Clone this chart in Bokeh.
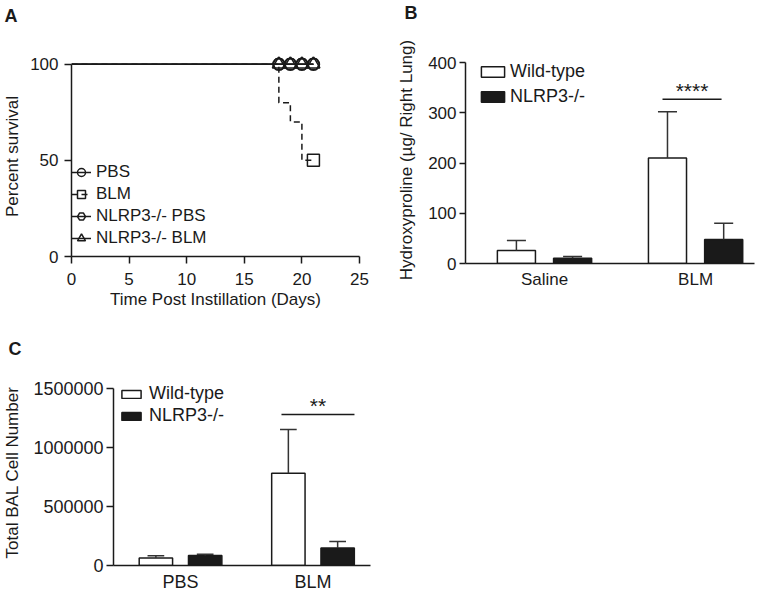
from bokeh.plotting import figure
from bokeh.layouts import column, row
from bokeh.models import Range1d, FixedTicker, Legend, LegendItem, Title, BasicTickFormatter
from bokeh.core.properties import value
from bokeh.embed import file_html
from bokeh.resources import INLINE

FONT = "Liberation Sans"
INK = "#1a1a1a"

# ---------------- data ----------------
day_ticks = [0, 5, 10, 15, 20, 25]
surv_ticks = [0, 50, 100]
a_series = ["PBS", "BLM", "NLRP3-/- PBS", "NLRP3-/- BLM"]
pbs_days = [0, 21]
pbs_surv = [100, 100]
blm_days = [0, 18, 19, 20, 21]
blm_surv = [100, 80, 70, 50, 50]
ko_pbs_days = [0, 21]
ko_pbs_surv = [100, 100]
ko_blm_days = [0, 21]
ko_blm_surv = [100, 100]
censor_days = [18, 19, 20, 21]
censor_surv = [100, 100, 100, 100]
blm_censor_days = [21]
blm_censor_surv = [50]

bar_names = ["Wild-type", "NLRP3-/-"]
b_groups = ["Saline", "BLM"]
b_ticks = [0, 100, 200, 300, 400]
b_wt_mean = [26, 210]
b_wt_sd = [20, 92]
b_ko_mean = [10.5, 48]
b_ko_sd = [3.5, 32]
b_sig_label = "****"
b_sig_y = 327

c_groups = ["PBS", "BLM"]
c_ticks = [0, 500000, 1000000, 1500000]
c_wt_mean = [63000, 784000]
c_wt_sd = [19000, 371000]
c_ko_mean = [85000, 148000]
c_ko_sd = [11000, 56000]
c_sig_label = "**"
c_sig_y = 1282000

DODGE = 0.186
BAR_W = 0.252


def base_fig(fw, fh, ml, mr, mt, mb, xr, yr):
    p = figure(frame_width=fw, frame_height=fh, min_border_left=ml, min_border_right=mr,
               min_border_top=mt, min_border_bottom=mb, x_range=xr, y_range=yr,
               output_backend="svg", toolbar_location=None, title=None)
    p.grid.visible = False
    p.outline_line_color = None
    p.background_fill_color = "white"
    p.border_fill_color = "white"
    return p


def style_axis(ax, tick_size="17px", label_size="17px"):
    ax.axis_line_color = INK
    ax.axis_line_width = 1.5
    ax.major_tick_line_color = INK
    ax.major_tick_line_width = 1.5
    ax.major_tick_in = 0
    ax.minor_tick_line_color = None
    ax.major_label_text_font = FONT
    ax.major_label_text_font_size = tick_size
    ax.major_label_text_color = INK
    ax.axis_label_text_font = FONT
    ax.axis_label_text_font_size = label_size
    ax.axis_label_text_font_style = "normal"
    ax.axis_label_text_color = INK


def panel_letter(p, txt, offset, spacer):
    p.add_layout(Title(text=" ", text_font_size="12px", standoff=spacer), "above")
    p.add_layout(Title(text=txt, align="left", offset=offset, vertical_align="top",
                       standoff=-8, text_font=FONT, text_font_size="18px",
                       text_font_style="bold", text_color=INK), "above")


# ---------------- Panel A ----------------
pa = base_fig(288, 200, 69, 23, 52, 78, Range1d(0, 25), Range1d(0, 104))
xa, ya = pa.xaxis[0], pa.yaxis[0]
style_axis(xa)
style_axis(ya)
xa.ticker = FixedTicker(ticks=day_ticks)
xa.bounds = (0, 25)
xa.axis_label = "Time Post Instillation (Days)"
xa.major_tick_out = 7
xa.major_label_standoff = 9
xa.axis_label_standoff = 2
ya.ticker = FixedTicker(ticks=surv_ticks)
ya.bounds = (0, 100)
ya.axis_label = "Percent survival"
ya.major_tick_out = 7
ya.major_label_standoff = 6
ya.axis_label_standoff = 5

lkw = dict(line_color=INK, line_width=1.5)
l_pbs = pa.line(pbs_days, pbs_surv, **lkw)
l_blm = pa.step(blm_days, blm_surv, mode="after", line_dash="6 4", **lkw)
l_kp = pa.line(ko_pbs_days, ko_pbs_surv, **lkw)
l_kb = pa.line(ko_blm_days, ko_blm_surv, **lkw)
mkw = dict(fill_color=None, line_color=INK, line_width=1.5)
m_pbs = pa.scatter(censor_days, censor_surv, marker="circle", size=12, **mkw)
m_blm = pa.scatter(blm_censor_days, blm_censor_surv, marker="square", size=12, **mkw)
m_kp = pa.scatter(censor_days, censor_surv, marker="hex", size=12, **mkw)
m_kb = pa.scatter(censor_days, censor_surv, marker="triangle", size=13, **mkw)

leg_a = Legend(items=[LegendItem(label=a_series[0], renderers=[l_pbs, m_pbs]),
                      LegendItem(label=a_series[1], renderers=[l_blm, m_blm]),
                      LegendItem(label=a_series[2], renderers=[l_kp, m_kp]),
                      LegendItem(label=a_series[3], renderers=[l_kb, m_kb])],
               location=(0, 7), glyph_width=20, glyph_height=22, label_height=20,
               spacing=0, padding=0, margin=0, label_standoff=5,
               border_line_color=None, background_fill_alpha=0,
               label_text_font=FONT, label_text_font_size="17px", label_text_color=INK)
pa.add_layout(leg_a)
panel_letter(pa, "A", -67, 17)


# ---------------- bar panels ----------------
def bar_panel(p, groups, wt_mean, wt_sd, ko_mean, ko_sd, sig_label, sig_y, sig_rel, star_size):
    gx = [i + 1 for i in range(len(groups))]
    wt_x = [g - DODGE for g in gx]
    ko_x = [g + DODGE for g in gx]
    bw = dict(line_color=INK, line_width=1.5)
    r_wt = p.vbar(x=wt_x, top=wt_mean, bottom=0, width=BAR_W, fill_color="white", **bw)
    r_ko = p.vbar(x=ko_x, top=ko_mean, bottom=0, width=BAR_W, fill_color=INK, **bw)
    ekw = dict(line_color="#333333", line_width=1.5)
    for xs, m, s in ((wt_x, wt_mean, wt_sd), (ko_x, ko_mean, ko_sd)):
        hi = [a + b for a, b in zip(m, s)]
        p.segment(x0=xs, y0=m, x1=xs, y1=hi, **ekw)
        p.segment(x0=[x - BAR_W / 4 for x in xs], y0=hi, x1=[x + BAR_W / 4 for x in xs], y1=hi, **ekw)
    g = gx[-1]
    x0, x1 = g + sig_rel[0], g + sig_rel[1]
    p.segment(x0=[x0], y0=[sig_y], x1=[x1], y1=[sig_y], line_color=INK, line_width=1.5)
    p.text(x=[(x0 + x1) / 2], y=[sig_y], text=[sig_label], text_align="center",
           text_baseline="alphabetic", y_offset=-9, text_font=value(FONT),
           text_font_size=star_size, text_color=INK)
    ax = p.xaxis[0]
    ax.ticker = FixedTicker(ticks=gx)
    ax.major_label_overrides = {g_: name for g_, name in zip(gx, groups)}
    return r_wt, r_ko


# Panel B
pb = base_fig(289, 207, 83, 5, 56, 67, Range1d(0.477, 2.390), Range1d(0, 412))
style_axis(pb.xaxis[0])
style_axis(pb.yaxis[0])
rb_wt, rb_ko = bar_panel(pb, b_groups, b_wt_mean, b_wt_sd, b_ko_mean, b_ko_sd,
                         b_sig_label, b_sig_y, (-0.219, 0.172), "21px")
pb.xaxis[0].major_tick_out = 0
pb.xaxis[0].major_tick_line_color = None
pb.xaxis[0].major_label_standoff = 6
pb.yaxis[0].ticker = FixedTicker(ticks=b_ticks)
pb.yaxis[0].bounds = (0, 400)
pb.yaxis[0].axis_label = "Hydroxyproline (µg/ Right Lung)"
pb.yaxis[0].major_tick_out = 6
pb.yaxis[0].major_label_standoff = 3
pb.yaxis[0].axis_label_standoff = 9
leg_b = Legend(items=[LegendItem(label=bar_names[0], renderers=[rb_wt]),
                      LegendItem(label=bar_names[1], renderers=[rb_ko])],
               location=(13, 156), glyph_width=29, glyph_height=13, label_height=20,
               spacing=4, padding=0, margin=0, label_standoff=3,
               border_line_color=None, background_fill_alpha=0,
               label_text_font=FONT, label_text_font_size="18px", label_text_color=INK)
pb.add_layout(leg_b)
panel_letter(pb, "B", -61, 20)

# Panel C
pc = base_fig(257, 186, 108, 35, 49, 26, Range1d(0.494, 2.434), Range1d(0, 1579000))
style_axis(pc.xaxis[0], tick_size="18px")
style_axis(pc.yaxis[0], tick_size="18px")
rc_wt, rc_ko = bar_panel(pc, c_groups, c_wt_mean, c_wt_sd, c_ko_mean, c_ko_sd,
                         c_sig_label, c_sig_y, (-0.238, 0.313), "21px")
pc.xaxis[0].major_tick_out = 0
pc.xaxis[0].major_tick_line_color = None
pc.xaxis[0].major_label_standoff = 6
pc.yaxis[0].ticker = FixedTicker(ticks=c_ticks)
pc.yaxis[0].bounds = (0, 1500000)
pc.yaxis[0].formatter = BasicTickFormatter(use_scientific=False)
pc.yaxis[0].axis_label = "Total BAL Cell Number"
pc.yaxis[0].major_tick_out = 7
pc.yaxis[0].major_label_standoff = 3
pc.yaxis[0].axis_label_standoff = 8
leg_c = Legend(items=[LegendItem(label=bar_names[0], renderers=[rc_wt]),
                      LegendItem(label=bar_names[1], renderers=[rc_ko])],
               location=(6, 139), glyph_width=24, glyph_height=10, label_height=20,
               spacing=1, padding=0, margin=0, label_standoff=6,
               border_line_color=None, background_fill_alpha=0,
               label_text_font=FONT, label_text_font_size="18px", label_text_color=INK)
pc.add_layout(leg_c)
panel_letter(pc, "C", -105, 7)

layout = column(row(pa, pb), pc)
open("out.html", "w").write(file_html(layout, INLINE))
